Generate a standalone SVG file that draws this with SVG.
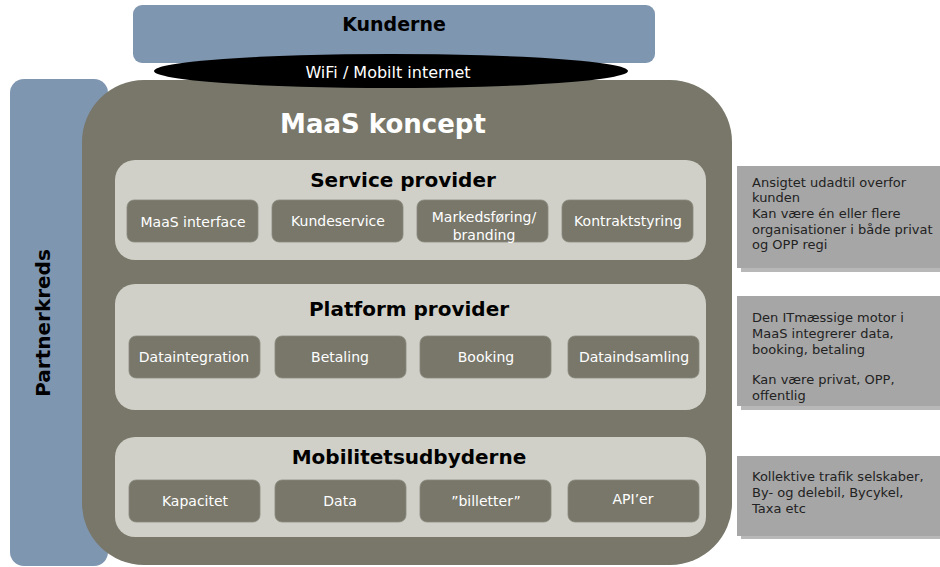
<svg xmlns="http://www.w3.org/2000/svg" width="940" height="567" viewBox="0 0 940 567">
<style>
.sub{fill:#78776a;stroke:#8a897d;stroke-width:0.8}
.subt{font-family:"DejaVu Sans",Verdana,sans-serif;font-size:14px;fill:#ffffff;text-anchor:middle}
.panel{fill:#d0d0c8}
.pt{font-family:"DejaVu Sans",Verdana,sans-serif;font-size:20px;font-weight:bold;fill:#000;text-anchor:middle}
.note{fill:#a6a6a6}
.shadow{fill:#b8b8b8}
.nt{font-family:"DejaVu Sans",Verdana,sans-serif;font-size:13px;fill:#222}
</style>
<rect width="940" height="567" fill="#ffffff"/>
<g id="partnerkreds">
<rect x="10" y="79" width="98" height="487" rx="14" fill="#7f96b1"/>
<text transform="translate(50,323) rotate(-90)" font-family="DejaVu Sans,Verdana,sans-serif" font-size="20" font-weight="bold" text-anchor="middle">Partnerkreds</text>
</g>
<g id="kunderne">
<rect x="133" y="5" width="522" height="58" rx="9" fill="#7f96b1"/>
<text x="394" y="31" font-family="DejaVu Sans,Verdana,sans-serif" font-size="19" font-weight="bold" text-anchor="middle">Kunderne</text>
</g>
<g id="maas">
<rect x="82" y="80" width="650" height="485" rx="62" fill="#78776a"/>
<text x="383" y="133" font-family="DejaVu Sans,Verdana,sans-serif" font-size="26" font-weight="bold" fill="#ffffff" text-anchor="middle">MaaS koncept</text>
</g>
<g id="wifi">
<ellipse cx="391" cy="71" rx="237" ry="17" fill="#000"/>
<text x="388" y="78" font-family="DejaVu Sans,Verdana,sans-serif" font-size="16" fill="#ffffff" text-anchor="middle">WiFi / Mobilt internet</text>
</g>
<g id="service">
<rect class="panel" x="115" y="160" width="591" height="100" rx="20"/>
<text class="pt" x="403" y="187">Service provider</text>
<rect class="sub" x="127" y="200" width="131" height="42" rx="7"/>
<text class="subt" x="193" y="227">MaaS interface</text>
<rect class="sub" x="272" y="200" width="131" height="42" rx="7"/>
<text class="subt" x="338" y="226">Kundeservice</text>
<rect class="sub" x="417" y="200" width="131" height="42" rx="7"/>
<text class="subt" x="484" y="222">Markedsføring/</text>
<text class="subt" x="484" y="240">branding</text>
<rect class="sub" x="562" y="200" width="131" height="42" rx="7"/>
<text class="subt" x="628" y="226">Kontraktstyring</text>
</g>
<g id="platform">
<rect class="panel" x="115" y="284" width="591" height="126" rx="20"/>
<text class="pt" x="409" y="316">Platform provider</text>
<rect class="sub" x="129" y="336" width="131" height="42" rx="7"/>
<text class="subt" x="194" y="362">Dataintegration</text>
<rect class="sub" x="275" y="336" width="131" height="42" rx="7"/>
<text class="subt" x="340" y="362">Betaling</text>
<rect class="sub" x="420" y="336" width="131" height="42" rx="7"/>
<text class="subt" x="486" y="362">Booking</text>
<rect class="sub" x="568" y="336" width="131" height="42" rx="7"/>
<text class="subt" x="634" y="362">Dataindsamling</text>
</g>
<g id="mobilitet">
<rect class="panel" x="115" y="437" width="591" height="100" rx="20"/>
<text class="pt" x="409" y="464">Mobilitetsudbyderne</text>
<rect class="sub" x="129" y="480" width="131" height="42" rx="7"/>
<text class="subt" x="195" y="506">Kapacitet</text>
<rect class="sub" x="275" y="480" width="131" height="42" rx="7"/>
<text class="subt" x="340" y="506">Data</text>
<rect class="sub" x="420" y="480" width="131" height="42" rx="7"/>
<text class="subt" x="486" y="506">”billetter”</text>
<rect class="sub" x="568" y="480" width="131" height="42" rx="7"/>
<text class="subt" x="633" y="504">API’er</text>
</g>
<g id="note1">
<rect class="shadow" x="741" y="170" width="199" height="102"/>
<rect class="note" x="737" y="166" width="203" height="102"/>
<text class="nt" x="752" y="187">Ansigtet udadtil overfor</text>
<text class="nt" x="752" y="202">kunden</text>
<text class="nt" x="752" y="218">Kan være én eller flere</text>
<text class="nt" x="752" y="234">organisationer i både privat</text>
<text class="nt" x="752" y="249">og OPP regi</text>
</g>
<g id="note2">
<rect class="shadow" x="741" y="300" width="199" height="110"/>
<rect class="note" x="737" y="296" width="203" height="110"/>
<text class="nt" x="752" y="322">Den ITmæssige motor i</text>
<text class="nt" x="752" y="338">MaaS integrerer data,</text>
<text class="nt" x="752" y="354">booking, betaling</text>
<text class="nt" x="752" y="384">Kan være privat, OPP,</text>
<text class="nt" x="752" y="400">offentlig</text>
</g>
<g id="note3">
<rect class="shadow" x="741" y="459" width="199" height="80"/>
<rect class="note" x="737" y="456" width="203" height="80"/>
<text class="nt" x="752" y="481">Kollektive trafik selskaber,</text>
<text class="nt" x="752" y="497">By- og delebil, Bycykel,</text>
<text class="nt" x="752" y="513">Taxa etc</text>
</g>
</svg>
